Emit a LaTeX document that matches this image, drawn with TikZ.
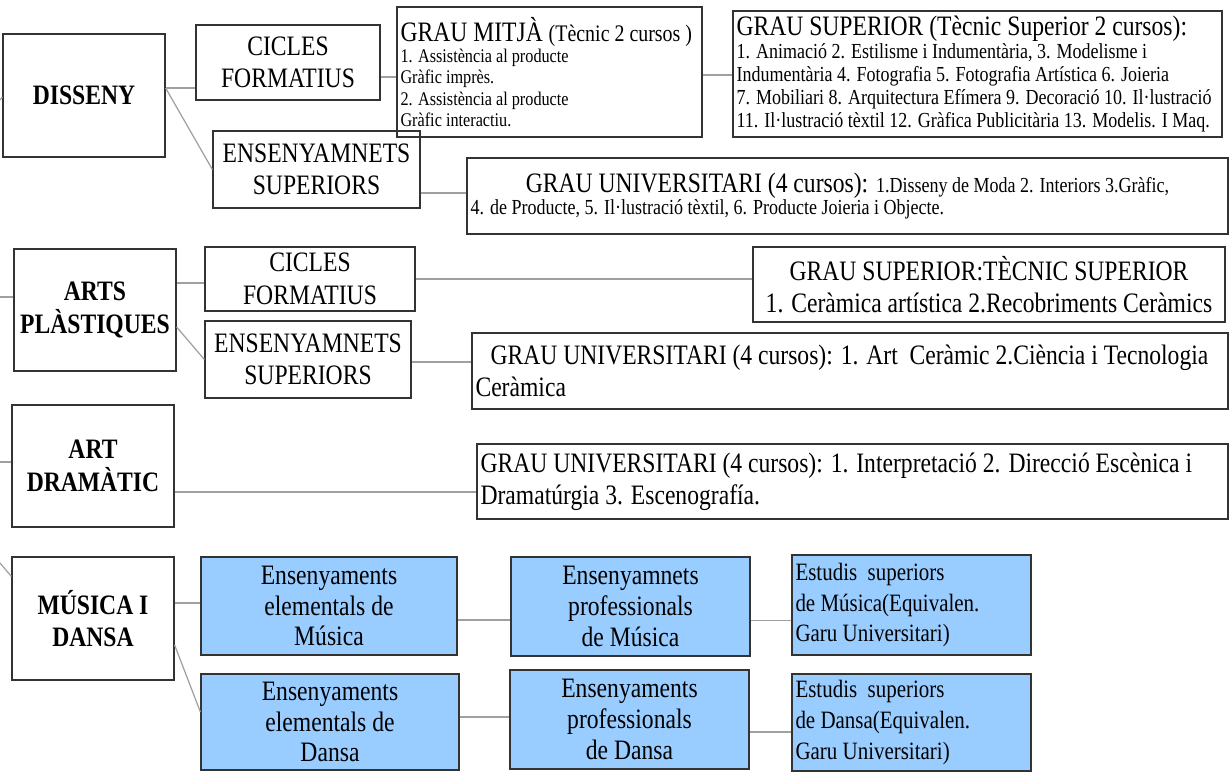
\documentclass[tikz,border=0pt]{standalone}
\usepackage{fontspec}
\setmainfont{Liberation Serif}[FakeStretch=0.84]
\definecolor{skyblue}{HTML}{99CCFF}
\definecolor{linkgray}{HTML}{A0A0A0}
\newcommand{\bigtxt}{\fontsize{16}{18.5}\selectfont}
\newcommand{\midtxt}{\fontsize{12.2}{13}\selectfont}
\newcommand{\smalltxt}{\fontsize{11}{12}\selectfont}
\tikzset{
  box/.style={draw=black!80, line width=0.7pt, inner sep=2pt, font=\bigtxt},
  bluebox/.style={box, fill=skyblue, font=\fontsize{16}{17.5}\selectfont},
  head/.style={box, font=\bfseries\bigtxt, align=center},
  sz/.style 2 args={minimum width=#1*0.02cm, minimum height=#2*0.02cm},
  tw/.style={text width=#1*0.02cm, align=flush left,
    execute at begin node={\spaceskip=0pt\xspaceskip=0pt\hyphenpenalty=10000}},
  link/.style={draw=linkgray, line width=0.7pt}
}
\begin{document}
\begin{tikzpicture}[x=0.02cm, y=-0.02cm]
\useasboundingbox (0,0) rectangle (1229,779);

\node[head, sz={162}{123}] (dis) at (84,95.5) {DISSENY};
\node[box, sz={184}{75}, align=center] (cic1) at (288,62.5) {CICLES\\FORMATIUS};
\node[box, sz={305}{130}, tw=298] (mitja) at (549.5,72)
  {{\bigtxt GRAU MITJÀ {\fontsize{13.5}{15}\selectfont(Tècnic 2 cursos )}\par}
   {\smalltxt 1. Assistència al producte\\Gràfic imprès.\\2. Assistència al producte\\Gràfic interactiu.\par}};
\node[box, sz={489}{126}, tw=482] (sup) at (977.5,74)
  {{\bigtxt GRAU SUPERIOR (Tècnic Superior 2 cursos):\par}
   {\midtxt 1. Animació 2. Estilisme i Indumentària, 3. Modelisme i\\Indumentària 4. Fotografia 5. Fotografia Artística 6. Joieria\\7. Mobiliari 8. Arquitectura Efímera 9. Decoració 10. Il·lustració\\11. Il·lustració tèxtil 12. Gràfica Publicitària 13. Modelis. I Maq.\par}};
\node[box, sz={207}{77}, align=center] (ens1) at (316.5,169.5) {ENSENYAMNETS\\SUPERIORS};
\node[box, sz={761}{76}, tw=754] (univ1) at (847.5,196)
  {{\centering\bigtxt GRAU UNIVERSITARI (4 cursos): {\midtxt 1.Disseny de Moda 2. Interiors 3.Gràfic,}\par}
   {\midtxt 4. de Producte, 5. Il·lustració tèxtil, 6. Producte Joieria i Objecte.\par}};

\node[head, sz={162}{122}] (arts) at (95,310) {ARTS\\PLÀSTIQUES};
\node[box, sz={210}{64}, align=center] (cic2) at (310,279) {CICLES\\FORMATIUS};
\node[box, sz={472}{75}, align=center] (gsup) at (989,284.5)
  {GRAU SUPERIOR:TÈCNIC SUPERIOR\\1. Ceràmica artística 2.Recobriments Ceràmics};
\node[box, sz={206}{77}, align=center] (ens2) at (308,359.5) {ENSENYAMNETS\\SUPERIORS};
\node[box, sz={756}{76}, tw=749] (univ2) at (850,371)
  {\hspace*{0.3cm}GRAU UNIVERSITARI (4 cursos): 1. Art\ \ Ceràmic 2.Ciència i Tecnologia\\Ceràmica};

\node[head, sz={162}{122}] (dram) at (93,466) {ART\\DRAMÀTIC};
\node[box, sz={751}{75}, tw=744] (univ3) at (852.5,481.5)
  {GRAU UNIVERSITARI (4 cursos): 1. Interpretació 2. Direcció Escènica i\\Dramatúrgia 3. Escenografía.};

\node[head, sz={162}{123}] (mus) at (93,618.5) {MÚSICA I\\DANSA};
\node[bluebox, sz={256}{98}, align=center] (elemM) at (329,606) {Ensenyaments\\elementals de\\Música};
\node[bluebox, sz={239}{99}, align=center] (profM) at (630.5,606.5) {Ensenyamnets\\professionals\\de Música};
\node[bluebox, sz={239}{100}, tw=232, font=\fontsize{14.2}{17.5}\selectfont] (estM) at (911.5,605)
  {Estudis\ \ superiors\\de Música(Equivalen.\\Garu Universitari)};
\node[bluebox, sz={258}{96}, align=center] (elemD) at (330,722) {Ensenyaments\\elementals de\\Dansa};
\node[bluebox, sz={239}{99}, align=center] (profD) at (629.5,719.5) {Ensenyaments\\professionals\\de Dansa};
\node[bluebox, sz={239}{97}, tw=232, font=\fontsize{14.2}{17.5}\selectfont] (estD) at (911.5,722.5)
  {Estudis\ \ superiors\\de Dansa(Equivalen.\\Garu Universitari)};

\coordinate (l1) at (0,100);
\coordinate (l2) at (0,297);
\coordinate (l3) at (0,462);
\coordinate (l4) at (0,563);

\draw[link] (l1) -- (dis.west |- 0,97);
\draw[link] (l2) -- (l2 -| arts.west);
\draw[link] (l3) -- (l3 -| dram.west);
\draw[link] (l4) -- ([yshift=-0.4cm]mus.north west);

\draw[link] ([yshift=0.15cm]dis.east) -- ([yshift=0.15cm]dis.east -| cic1.west);
\draw[link] ([yshift=0.15cm]dis.east) -- (ens1.west);
\draw[link] ([yshift=-0.1cm]mitja.west -| cic1.east) -- ([yshift=-0.1cm]mitja.west);
\draw[link] ([yshift=-0.06cm]mitja.east) -- ([yshift=-0.06cm]mitja.east -| sup.west);
\draw[link] ([yshift=0.06cm]univ1.west -| ens1.east) -- ([yshift=0.06cm]univ1.west);

\draw[link] ([yshift=-0.08cm]cic2.west -| arts.east) -- ([yshift=-0.08cm]cic2.west);
\draw[link] ([yshift=-0.34cm]arts.east) -- (ens2.west);
\draw[link] (cic2.east) -- (cic2.east -| gsup.west);
\draw[link] ([yshift=-0.05cm]ens2.east) -- ([yshift=-0.05cm]ens2.east -| univ2.west);

\draw[link] ([yshift=-0.52cm]dram.east) -- ([yshift=-0.52cm]dram.east -| univ3.west);

\draw[link] ([yshift=0.06cm]elemM.west -| mus.east) -- ([yshift=0.06cm]elemM.west);
\draw[link] ([yshift=-0.53cm]mus.east) -- ([yshift=0.2cm]elemD.west);
\draw[link] ([yshift=-0.28cm]elemM.east) -- ([yshift=-0.28cm]elemM.east -| profM.west);
\draw[link] ([yshift=-0.28cm]profM.east) -- ([yshift=-0.28cm]profM.east -| estM.west);
\draw[link] ([yshift=0.1cm]elemD.east) -- ([yshift=0.1cm]elemD.east -| profD.west);
\draw[link] ([yshift=-0.25cm]profD.east) -- ([yshift=-0.25cm]profD.east -| estD.west);
\end{tikzpicture}
\end{document}
